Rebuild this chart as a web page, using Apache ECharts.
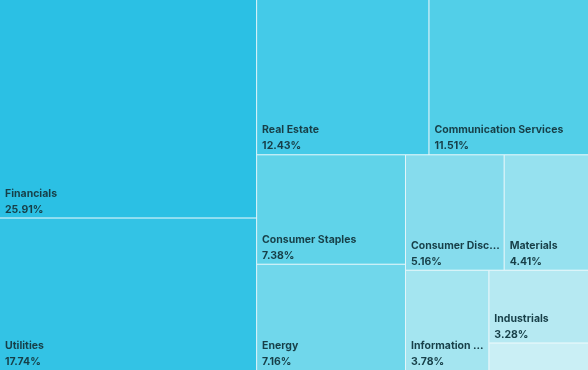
<!DOCTYPE html>
<html>
<head>
<meta charset="utf-8">
<script src="https://cdn.jsdelivr.net/npm/echarts@6/dist/echarts.min.js"></script>
<style>html,body{margin:0;padding:0;background:#fff}#c{width:588px;height:370px}</style>
</head>
<body>
<div id="c"></div>
<script>
const sectors = ["Financials","Utilities","Real Estate","Communication Services","Consumer Staples","Energy","Consumer Discretionary","Materials","Information Technology","Industrials","Health Care"];
const weights = [25.91,17.74,12.43,11.51,7.38,7.16,5.16,4.41,3.78,3.28,1.24];
const shades = ["#2bc0e4","#33c3e5","#44cae8","#52cfe8","#60d3e9","#70d7eb","#86dced","#96e1ef","#a4e5f0","#b6e9f2","#caeff5"];

const chart = echarts.init(document.getElementById('c'), null, {renderer:'canvas'});
chart.setOption({
  animation:false,
  series:[{
    type:'treemap',
    left:0, top:-4, width:588, height:374,
    squareRatio:1,
    roam:false, nodeClick:false,
    breadcrumb:{show:false},
    sort:'desc',
    levels:[
      {itemStyle:{borderWidth:0, gapWidth:1, borderColor:'#e2f5fa'}},
      {itemStyle:{borderWidth:0, gapWidth:0}}
    ],
    label:{
      show:true,
      position:'insideTopLeft',
      padding:[0,0,0,5],
      overflow:'truncate',
      ellipsis:'...',
      formatter:function(p){
        if (p.value < 2) return '';
        return '{n|'+p.name+'}\n{v|'+p.value.toFixed(2)+'%}';
      },
      rich:{
        n:{fontFamily:'Inter',fontSize:10.5,fontWeight:'bold',color:'#173f48',lineHeight:16},
        v:{fontFamily:'Inter',fontSize:10.5,fontWeight:'bold',color:'#173f48',lineHeight:16}
      }
    },
    labelLayout:function(p){
      return {x:p.rect.x, y:p.rect.y + p.rect.height - 32, align:'left', verticalAlign:'top'};
    },
    upperLabel:{show:false},
    data: sectors.map((s,i)=>({name:s, value:weights[i], itemStyle:{color:shades[i]}}))
  }]
});
</script>
</body>
</html>
